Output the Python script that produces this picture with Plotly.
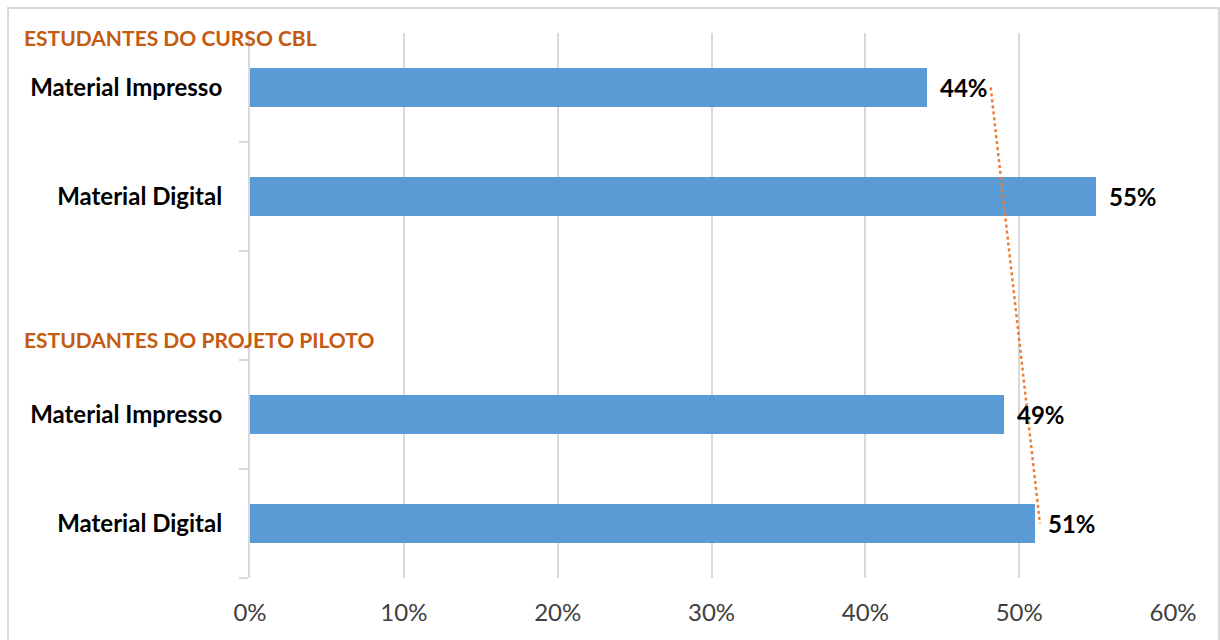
import numpy as np
import plotly.graph_objects as go

# Survey results: share of students preferring each material type
categories = ["Material Impresso", "Material Digital", "", "Material Impresso", "Material Digital"]
row_pos = [0, 1, 3, 4]          # rows that hold a bar (row 2 is the gap between groups)
values = [44, 55, 49, 51]       # percent
bar_labels = ["Material Impresso", "Material Digital", "Material Impresso", "Material Digital"]
group_titles = ["ESTUDANTES DO CURSO CBL", "ESTUDANTES DO PROJETO PILOTO"]
x_ticks = [0, 10, 20, 30, 40, 50, 60]

BAR = "#5B9BD5"
TREND = "#ED7D31"
TITLE = "#C55A11"
GRID = "#D9D9D9"
FONT = "Lato"

# Linear trend across the bar rows
slope, intercept = np.polyfit(row_pos, values, 1)
trend_y = [row_pos[0], row_pos[-1]]
trend_x = [slope * r + intercept for r in trend_y]

fig = go.Figure()
fig.add_trace(go.Bar(
    x=values, y=row_pos, orientation="h", width=0.35,
    marker=dict(color=BAR, line=dict(width=0)),
    hoverinfo="skip", showlegend=False,
))
fig.add_trace(go.Scatter(
    x=trend_x, y=trend_y, mode="lines",
    line=dict(color=TREND, width=2.5, dash="dot"),
    hoverinfo="skip", showlegend=False,
))

annotations = []
# Value labels at the end of each bar
for v, r in zip(values, row_pos):
    annotations.append(dict(
        x=v, y=r, xref="x", yref="y", text=f"<b>{v}%</b>",
        xanchor="left", yanchor="middle", xshift=11, showarrow=False,
        font=dict(family=FONT, size=24, color="#000000"),
    ))
# Group headings
for title, py in zip(group_titles, [0.992, 0.437]):
    annotations.append(dict(
        x=-0.247, y=py, xref="paper", yref="paper", text=f"<b>{title}</b>",
        xanchor="left", yanchor="middle", showarrow=False,
        font=dict(family=FONT, size=21, color=TITLE),
    ))

fig.update_layout(
    width=1220, height=640,
    margin=dict(l=250, r=47, t=33, b=62, autoexpand=False),
    paper_bgcolor="white", plot_bgcolor="white",
    bargap=0,
    annotations=annotations,
    shapes=[dict(type="rect", xref="paper", yref="paper",
                 x0=-0.2622, x1=1.0498, y0=-0.2, y1=1.0459,
                 line=dict(color=GRID, width=2), layer="below")],
    xaxis=dict(
        range=[0, 60], tickvals=x_ticks, ticktext=[f"{t}%" for t in x_ticks],
        showgrid=True, gridcolor=GRID, gridwidth=2,
        zeroline=False, showline=False, ticks="",
        ticklabelstandoff=18,
        tickfont=dict(family=FONT, size=24, color="#404040"),
        fixedrange=True,
    ),
    yaxis=dict(
        range=[4.5, -0.5], tickvals=row_pos,
        ticktext=[f"<b>{t}</b>" for t in bar_labels],
        showgrid=False, zeroline=False,
        showline=True, linecolor=GRID, linewidth=2,
        ticks="", ticklabelstandoff=21, automargin=False,
        tickfont=dict(family=FONT, size=24, color="#000000"),
        minor=dict(tickvals=[0.5, 1.5, 2.5, 3.5, 4.5], ticks="outside",
                   ticklen=9, tickwidth=2, tickcolor=GRID, showgrid=False),
        fixedrange=True,
    ),
)

fig.write_html("out.html")
